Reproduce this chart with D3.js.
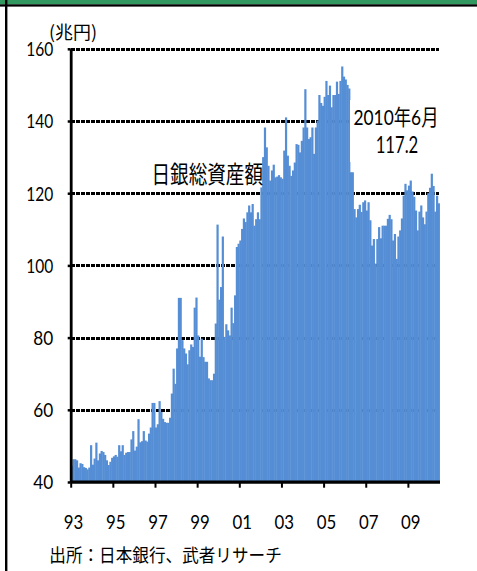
<!DOCTYPE html>
<html><head><meta charset="utf-8">
<script src="https://cdn.jsdelivr.net/npm/d3@7"></script>
<style>
html,body{margin:0;padding:0;background:#fff;}
svg{display:block;}
text{font-family:"Lato","Noto Sans CJK JP",sans-serif;fill:#000;}
.jp{font-family:"Noto Sans CJK JP",sans-serif;}
</style></head><body>
<svg id="chart" width="477" height="571"></svg>
<script>
// ---- data (兆円, monthly, Jan 1993 – Jun 2010) ----
const years = [1993,1994,1995,1996,1997,1998,1999,2000,2001,2002,2003,2004,2005,2006,2007,2008,2009,2010];
const v1993 = [44.5,46.3,46.3,46.0,44.0,45.2,45.0,44.1,43.9,43.5,44.0,50.2];
const v1994 = [44.8,46.5,50.9,46.0,47.9,48.6,48.3,47.5,46.0,44.7,45.6,46.7];
const v1995 = [47.1,47.5,47.0,50.2,48.5,50.2,47.5,48.1,48.3,48.3,51.8,54.1];
const v1996 = [48.7,49.8,57.4,51.0,51.3,54.1,51.5,51.2,53.4,55.1,61.9,61.9];
const v1997 = [55.1,56.0,62.4,59.4,57.5,56.6,56.4,56.4,57.8,64.5,71.4,67.2];
const v1998 = [77.0,91.0,91.0,79.3,77.0,75.6,72.6,76.5,78.1,77.4,88.3,91.1];
const v1999 = [80.6,74.7,79.7,74.6,73.3,73.3,68.7,68.2,68.2,70.0,83.9,111.3];
const v2000 = [90.5,94.0,108.0,80.2,83.7,82.0,80.6,88.3,84.0,91.7,105.1,106.0];
const v2001 = [106.9,110.1,113.0,112.0,114.7,116.6,114.7,117.0,111.0,112.8,114.7,112.8];
const v2002 = [121.6,130.0,138.2,132.7,127.6,123.5,126.3,127.9,124.4,124.6,125.0,124.4];
const v2003 = [124.0,131.8,141.0,130.4,127.6,124.8,126.3,128.5,133.6,133.4,131.3,134.5];
const v2004 = [138.2,148.8,138.2,135.0,135.5,138.2,130.9,138.2,140.1,147.2,145.0,144.2];
const v2005 = [146.7,151.1,147.2,149.8,143.8,147.2,147.2,150.9,147.5,151.1,155.1,152.3];
const v2006 = [151.5,150.0,149.0,125.8,125.8,115.6,113.3,115.6,116.8,114.8,117.5,118.0];
const v2007 = [115.2,117.5,112.5,105.5,107.3,100.5,107.3,110.6,107.5,111.0,111.0,111.0];
const v2008 = [112.9,114.0,112.8,106.9,108.7,101.8,108.0,109.7,113.0,119.3,122.6,120.8];
const v2009 = [122.1,123.5,120.5,119.0,115.2,109.7,114.9,116.6,113.3,111.4,114.9,120.0];
const v2010 = [121.5,125.4,122.0,114.9,119.3,117.2];
const valuesByYear = [v1993,v1994,v1995,v1996,v1997,v1998,v1999,v2000,v2001,v2002,v2003,v2004,v2005,v2006,v2007,v2008,v2009,v2010];

const yTicks = [40,60,80,100,120,140,160];
const xTickYears = [1993,1995,1997,1999,2001,2003,2005,2007,2009];
const xTickLabels = ["93","95","97","99","01","03","05","07","09"];
const unitLabel = "(兆円)";
const seriesLabel = "日銀総資産額";
const lastDateLabel = "2010年6月";
const lastValueLabel = "117.2";
const sourceLabel = "出所：日本銀行、武者リサーチ";

// ---- build table ----
const data = [];
valuesByYear.forEach((arr, i) => arr.forEach((v, j) => data.push({key: years[i] + "-" + (j + 1), year: years[i], month: j + 1, value: v})));

const svg = d3.select("#chart");
const X0 = 70.7, X1 = 439.5;

const x = d3.scaleBand().domain(data.map(d => d.key)).range([X0, X1]).paddingInner(0).paddingOuter(0);
const xIdx = d3.scaleLinear().domain([0, data.length]).range([X0, X1]);
const y = d3.scaleLinear().domain([40, 160]).range([482, 48.8]);

// frame / header
svg.append("rect").attr("x", 0).attr("y", 0).attr("width", 477).attr("height", 4.4).attr("fill", "#31985f");
svg.append("rect").attr("x", 0).attr("y", 4.3).attr("width", 477).attr("height", 2.3).attr("fill", "#000");
svg.append("rect").attr("x", 5).attr("y", 0).attr("width", 2.4).attr("height", 571).attr("fill", "#000");

// gridlines
svg.append("g").attr("shape-rendering", "crispEdges").selectAll("line").data(yTicks.filter(t => t > 40)).join("line")
  .attr("x1", X0).attr("x2", 439.3)
  .attr("y1", d => Math.round(y(d)) + 0.5).attr("y2", d => Math.round(y(d)) + 0.5)
  .attr("stroke", "#000").attr("stroke-width", 3).attr("stroke-dasharray", "4,1");

// bars
svg.append("g").selectAll("rect").data(data).join("rect")
  .attr("x", d => x(d.key)).attr("width", x.bandwidth() + 0.45)
  .attr("y", d => y(d.value)).attr("height", d => y(40) - y(d.value))
  .attr("fill", "#558ed5");

// annotation box (white, hides gridline behind the label)
svg.append("rect").attr("x", 350).attr("y", 100).attr("width", 92).attr("height", 62).attr("fill", "#fff");

// y axis
const yAxis = svg.append("g").attr("transform", `translate(${X0},0)`)
  .call(d3.axisLeft(y).tickValues(yTicks).tickSizeInner(3).tickSizeOuter(0).tickPadding(14.5));
yAxis.select(".domain").attr("stroke", "#000").attr("stroke-width", 2.8);
yAxis.selectAll(".tick line").attr("stroke", "#000").attr("stroke-width", 2.5);
yAxis.selectAll("text").attr("font-size", 18.5).attr("font-family", "Lato").attr("dy", "0.37em")
  .attr("textLength", d => String(d).length === 3 ? 27 : 20).attr("lengthAdjust", "spacingAndGlyphs");

// x axis
const xTickIdx = xTickYears.map(yr => data.findIndex(d => d.year === yr && d.month === 1));
const xAxis = svg.append("g").attr("transform", `translate(0,481.7)`)
  .call(d3.axisBottom(xIdx).tickValues(xTickIdx).tickSizeInner(6).tickSizeOuter(0).tickPadding(27)
    .tickFormat((d, i) => xTickLabels[i]));
xAxis.select(".domain").attr("stroke", "#000").attr("stroke-width", 3.3);
xAxis.selectAll(".tick line").attr("stroke", "#000").attr("stroke-width", 2);
xAxis.selectAll("text").attr("font-size", 20).attr("font-family", "Lato").attr("dx", 2.4)
  .attr("textLength", 19.5).attr("lengthAdjust", "spacingAndGlyphs");

// annotations
svg.append("text").attr("class", "jp").attr("x", 49).attr("y", 38.5).attr("font-size", 18)
  .attr("textLength", 48).attr("lengthAdjust", "spacingAndGlyphs").text(unitLabel);
svg.append("text").attr("class", "jp").attr("x", 151.5).attr("y", 183.3).attr("font-size", 24)
  .attr("textLength", 111.5).attr("lengthAdjust", "spacingAndGlyphs").text(seriesLabel);
svg.append("text").attr("x", 353.5).attr("y", 124.5).attr("font-size", 22)
  .attr("textLength", 85).attr("lengthAdjust", "spacingAndGlyphs").text(lastDateLabel);
svg.append("text").attr("x", 375.7).attr("y", 153.3).attr("font-size", 23)
  .attr("textLength", 42.6).attr("lengthAdjust", "spacingAndGlyphs").text(lastValueLabel);
svg.append("text").attr("class", "jp").attr("x", 49.3).attr("y", 562).attr("font-size", 18.5)
  .attr("textLength", 232.5).attr("lengthAdjust", "spacingAndGlyphs").text(sourceLabel);
</script>
</body></html>
